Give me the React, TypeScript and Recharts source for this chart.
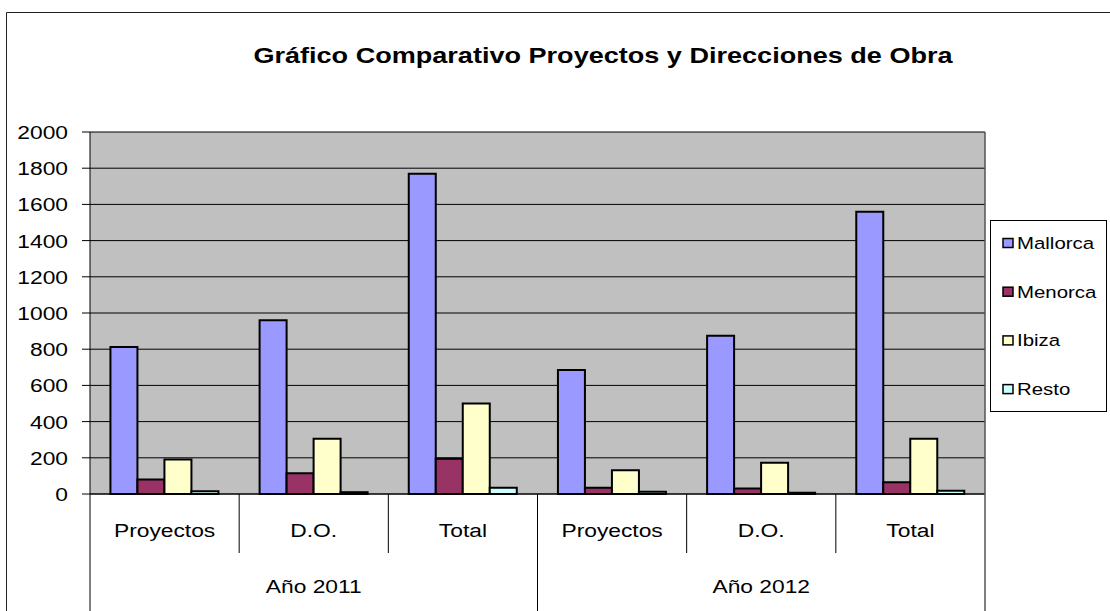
import { Bar, BarChart, CartesianGrid, XAxis, YAxis } from "recharts";

const subCategories = ["Proyectos", "D.O.", "Total", "Proyectos", "D.O.", "Total"];
const years = ["Año 2011", "Año 2011", "Año 2011", "Año 2012", "Año 2012", "Año 2012"];

const mallorca = [812, 960, 1770, 685, 875, 1560];
const menorca = [80, 115, 195, 35, 30, 65];
const ibiza = [190, 305, 500, 131, 173, 305];
const resto = [15, 10, 35, 12, 7, 18];

const seriesNames = ["Mallorca", "Menorca", "Ibiza", "Resto"];
const seriesColors = ["#9999FF", "#993366", "#FFFFCC", "#CCFFFF"];
const seriesValues = [mallorca, menorca, ibiza, resto];

const yTicks = [0, 200, 400, 600, 800, 1000, 1200, 1400, 1600, 1800, 2000];

const title = "Gráfico Comparativo Proyectos y Direcciones de Obra";

const data = subCategories.map((sub, i) => {
  const row: Record<string, string | number> = { key: `${years[i]}-${sub}-${i}`, sub };
  seriesNames.forEach((name, s) => {
    row[name] = seriesValues[s][i];
  });
  return row;
});

const W = 1110;
const H = 611;
const PLOT_LEFT = 90;
const PLOT_RIGHT = 985;
const PLOT_TOP = 132;
const PLOT_BOTTOM = 494;
const FONT = "'Liberation Sans', Arial, sans-serif";

// the source picture is stretched horizontally, so text is widened a bit
function WideText({
  x,
  y,
  children,
  size,
  anchor = "middle",
  bold = false,
  sx = 1.2,
}: {
  x: number;
  y: number;
  children: string;
  size: number;
  anchor?: "start" | "middle" | "end";
  bold?: boolean;
  sx?: number;
}) {
  return (
    <text
      transform={`translate(${x} ${y}) scale(${sx} 1)`}
      textAnchor={anchor}
      fontFamily={FONT}
      fontSize={size}
      fontWeight={bold ? "bold" : "normal"}
      fill="#000"
    >
      {children}
    </text>
  );
}

function ValueTick(props: any) {
  const { x, y, payload } = props;
  return (
    <WideText x={x} y={y + 7} size={19} anchor="end">
      {String(payload.value)}
    </WideText>
  );
}

function CategoryTick(props: any) {
  const { payload } = props;
  const index: number = props.index ?? payload.index;
  const bw = (PLOT_RIGHT - PLOT_LEFT) / subCategories.length;
  const left = payload.coordinate - bw / 2;
  const groupStart = index === 0 || years[index - 1] !== years[index];
  const groupSize = years.filter((y) => y === years[index]).length;
  const isLast = index === subCategories.length - 1;

  return (
    <g>
      <line
        x1={left}
        x2={left}
        y1={PLOT_BOTTOM}
        y2={groupStart ? H : 553}
        stroke="#000"
        strokeWidth={1}
      />
      {isLast && (
        <line x1={left + bw} x2={left + bw} y1={PLOT_BOTTOM} y2={H} stroke="#555" strokeWidth={1.5} />
      )}
      <WideText x={payload.coordinate} y={537} size={19}>
        {subCategories[index]}
      </WideText>
      {groupStart && (
        <WideText x={left + (groupSize * bw) / 2} y={593} size={19}>
          {years[index]}
        </WideText>
      )}
    </g>
  );
}

export default function App() {
  return (
    <div style={{ position: "relative", width: W, height: H, background: "#fff" }}>
      <style>{"body{margin:0}"}</style>
      <BarChart
        width={W}
        height={H}
        data={data}
        margin={{ top: PLOT_TOP, right: W - PLOT_RIGHT, bottom: 0, left: 0 }}
        barCategoryGap="13.7%"
        barGap={0}
      >
        <CartesianGrid fill="#C0C0C0" stroke="#000" vertical={false} fillOpacity={1} />
        <XAxis
          dataKey="key"
          height={H - PLOT_BOTTOM}
          interval={0}
          tickLine={false}
          axisLine={{ stroke: "#000" }}
          tick={<CategoryTick />}
        />
        <YAxis
          width={PLOT_LEFT}
          domain={[0, 2000]}
          ticks={yTicks}
          interval={0}
          stroke="#000"
          tickSize={8}
          tickMargin={14}
          tickLine={{ stroke: "#000" }}
          axisLine={{ stroke: "#000" }}
          tick={<ValueTick />}
        />
        {seriesNames.map((name, s) => (
          <Bar
            key={name}
            dataKey={name}
            fill={seriesColors[s]}
            stroke="#000"
            strokeWidth={2}
            isAnimationActive={false}
          />
        ))}
      </BarChart>

      <svg
        width={W}
        height={H}
        style={{ position: "absolute", left: 0, top: 0, pointerEvents: "none" }}
      >
        <line x1={6.5} x2={W} y1={12.5} y2={12.5} stroke="#222" />
        <line x1={6.5} x2={6.5} y1={12.5} y2={H} stroke="#222" />
        <line x1={PLOT_RIGHT} x2={PLOT_RIGHT} y1={PLOT_TOP} y2={PLOT_BOTTOM} stroke="#555" strokeWidth={1.5} />
        <WideText x={603} y={63} size={22} bold sx={1.23}>
          {title}
        </WideText>

        <rect x={990.5} y={220.5} width={116} height={191} fill="#fff" stroke="#000" />
        {seriesNames.map((name, s) => {
          const cy = 243 + s * 48.7;
          return (
            <g key={name}>
              <rect x={1003} y={cy - 4.5} width={10} height={9} fill={seriesColors[s]} stroke="#000" strokeWidth={1.5} />
              <WideText x={1017} y={cy + 6} size={17} anchor="start">
                {name}
              </WideText>
            </g>
          );
        })}
      </svg>
    </div>
  );
}
